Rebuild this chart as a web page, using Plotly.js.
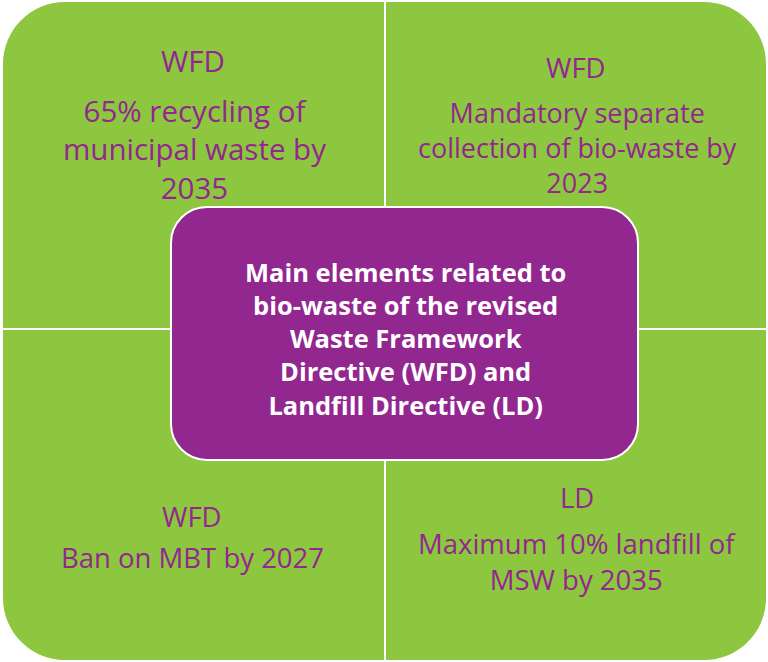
<!DOCTYPE html>
<html>
<head>
<meta charset="utf-8">
<script src="https://cdn.plot.ly/plotly-3.0.1.min.js"></script>
<style>html,body{margin:0;padding:0;background:#fff;}#chart{width:768px;height:662px;}</style>
</head>
<body>
<div id="chart"></div>
<script>
// ---- content ----
const quadrantHeadings = ["WFD", "WFD", "WFD", "LD"];
const topLeftLines = ["65% recycling of", "municipal waste by", "2035"];
const topRightLines = ["Mandatory separate", "collection of bio-waste by", "2023"];
const bottomLeftLines = ["Ban on MBT by 2027"];
const bottomRightLines = ["Maximum 10% landfill of", "MSW by 2035"];
const centerLines = ["Main elements related to", "bio-waste of the revised", "Waste Framework", "Directive (WFD) and", "Landfill Directive (LD)"];

// ---- styling / layout ----
const GREEN = "#8DC63F";
const PURPLE = "#92278F";
const TEXT_PURPLE = "#93278F";
const FONT = "'Open Sans', sans-serif";

function roundRect(x0, y0, x1, y1, r) {
  const k = 0.5523 * r;
  return `M ${x0 + r} ${y0} L ${x1 - r} ${y0} C ${x1 - r + k} ${y0} ${x1} ${y0 + r - k} ${x1} ${y0 + r} ` +
         `L ${x1} ${y1 - r} C ${x1} ${y1 - r + k} ${x1 - r + k} ${y1} ${x1 - r} ${y1} ` +
         `L ${x0 + r} ${y1} C ${x0 + r - k} ${y1} ${x0} ${y1 - r + k} ${x0} ${y1 - r} ` +
         `L ${x0} ${y0 + r} C ${x0} ${y0 + r - k} ${x0 + r - k} ${y0} ${x0 + r} ${y0} Z`;
}

const shapes = [
  {type: "path", xref: "x", yref: "y", path: roundRect(3, 2, 766, 660, 62), fillcolor: GREEN, line: {width: 0}, layer: "below"},
  {type: "line", xref: "x", yref: "y", x0: 385, x1: 385, y0: 0, y1: 662, line: {color: "#ffffff", width: 2}, layer: "below"},
  {type: "line", xref: "x", yref: "y", x0: 0, x1: 768, y0: 329, y1: 329, line: {color: "#ffffff", width: 2}, layer: "below"},
  {type: "path", xref: "x", yref: "y", path: roundRect(171, 207, 638, 460, 36), fillcolor: PURPLE, line: {color: "#ffffff", width: 2}}
];

const annotations = [];
function addBlock(lines, cx, cy, size, color, bold) {
  const txt = lines.join("<br>");
  annotations.push({
    x: cx, y: cy, xref: "x", yref: "y",
    text: bold ? "<b>" + txt + "</b>" : txt, showarrow: false,
    xanchor: "center", yanchor: "middle", align: "center",
    font: {family: FONT, size: size, color: color}
  });
}
// headings
addBlock([quadrantHeadings[0]], 193, 60, 29.5, TEXT_PURPLE, false);
addBlock([quadrantHeadings[1]], 576, 67, 27.5, TEXT_PURPLE, false);
addBlock([quadrantHeadings[2]], 192, 516, 27.5, TEXT_PURPLE, false);
addBlock([quadrantHeadings[3]], 577, 497, 27.5, TEXT_PURPLE, false);
// bodies
addBlock(topLeftLines, 194, 149, 29.5, TEXT_PURPLE, false);
addBlock(topRightLines, 577, 147, 27, TEXT_PURPLE, false);
addBlock(bottomLeftLines, 192, 557, 27.5, TEXT_PURPLE, false);
addBlock(bottomRightLines, 577, 561, 27.5, TEXT_PURPLE, false);
addBlock(centerLines, 405, 338, 25.5, "#ffffff", true);

const layout = {
  width: 768, height: 662,
  margin: {l: 0, r: 0, t: 0, b: 0},
  paper_bgcolor: "#ffffff", plot_bgcolor: "#ffffff",
  xaxis: {range: [0, 768], visible: false, fixedrange: true},
  yaxis: {range: [662, 0], visible: false, fixedrange: true},
  shapes: shapes,
  annotations: annotations,
  showlegend: false
};

Plotly.newPlot("chart", [], layout, {displayModeBar: false, staticPlot: true});
</script>
</body>
</html>
